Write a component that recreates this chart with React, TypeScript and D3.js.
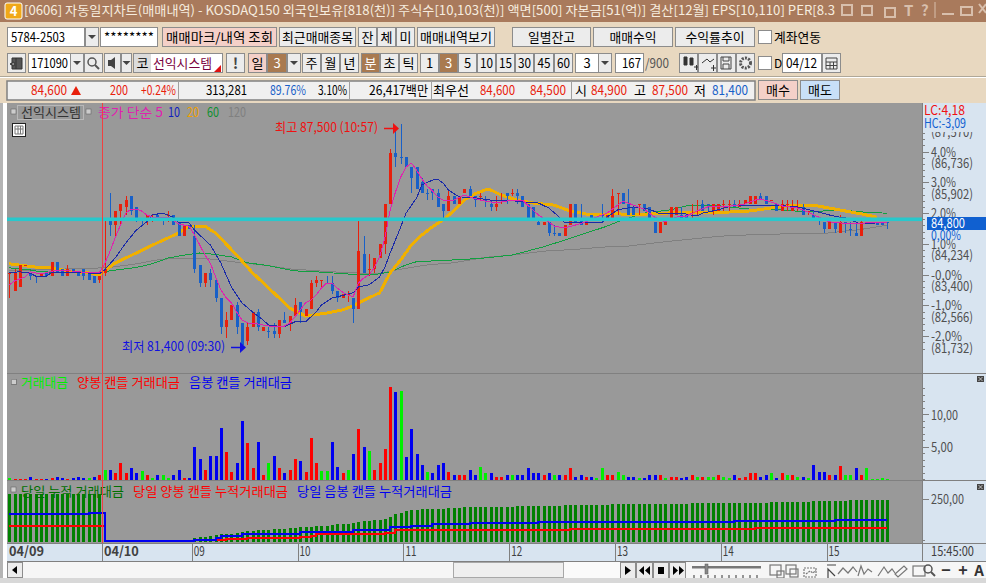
import * as d3 from "d3";

// 가격은 100원 단위 (834 = 83,400)
const opens = [
  834,829,830,836,834,833,833,834,833,837,
  835,833,835,834,835,834,833,832,834,849,
  847,851,852,855,852,849,849,849,850,849,
  850,850,848,844,847,844,836,831,834,832,
  827,819,821,825,820,815,819,823,818,818,
  818,817,821,820,822,826,822,824,831,832,
  831,831,829,827,828,827,824,839,835,835,
  838,842,853,867,866,866,863,863,859,856,
  857,856,853,851,855,853,856,857,855,855,
  854,853,852,854,856,856,856,855,853,852,
  848,847,848,845,845,844,847,853,849,847,
  850,849,850,849,849,856,856,853,852,853,
  853,852,848,845,847,849,850,850,850,849,
  850,853,853,851,851,853,853,853,852,853,
  853,853,855,855,854,853,851,853,851,852,
  852,851,850,849,848,846,848,845,848,846,
  845,844,848,848,848,848,848,
];
const closes = [
  834,834,836,836,833,833,834,833,837,834,
  833,835,834,833,833,832,831,833,835,847,
  851,853,854,851,849,849,850,849,849,849,
  850,847,844,847,846,835,831,834,832,827,
  819,821,825,819,814,819,823,819,819,818,
  817,821,820,822,825,823,824,831,832,832,
  831,829,827,828,828,824,840,834,835,838,
  842,853,867,866,866,863,860,857,856,856,
  856,852,851,855,853,855,857,855,854,855,
  854,852,853,854,855,856,855,852,849,849,
  847,848,845,845,844,847,853,848,847,848,
  849,849,850,850,855,856,853,850,850,853,
  851,849,845,848,848,852,852,849,849,849,
  850,851,853,853,853,853,853,852,853,854,
  855,855,854,853,854,851,853,853,852,852,
  850,851,849,849,846,848,846,848,848,846,
  844,848,848,848,847,847,848,
];
const highs = [
  834,835,836,836,834,833,834,834,837,837,
  835,836,835,834,835,834,833,833,849,856,
  851,853,855,855,852,849,850,850,850,849,
  851,850,848,847,847,847,836,834,835,832,
  827,823,825,826,820,820,823,824,819,819,
  820,821,823,822,827,826,824,832,833,832,
  833,833,829,828,829,827,849,844,839,838,
  842,853,868,874,875,866,863,863,860,857,
  857,857,853,857,855,855,857,858,855,856,
  855,854,855,856,856,857,857,855,853,852,
  849,848,848,847,845,847,853,853,853,848,
  850,849,853,850,857,856,856,857,852,853,
  853,852,848,848,848,852,852,852,850,853,
  854,854,853,853,853,854,854,854,854,854,
  855,855,856,855,854,853,854,854,854,854,
  853,851,851,849,848,848,848,850,848,848,
  848,849,848,848,848,848,848,
];
const lows = [
  827,829,830,836,832,831,833,833,833,834,
  833,833,834,833,832,832,831,831,833,844,
  844,847,850,850,848,847,847,848,849,847,
  848,847,844,844,846,834,830,830,830,826,
  817,816,821,817,814,814,819,818,818,816,
  816,816,820,818,822,820,822,824,830,830,
  831,828,826,827,826,820,824,834,833,834,
  838,839,853,863,864,863,856,857,856,854,
  854,852,849,851,853,853,856,855,852,854,
  852,851,851,853,853,855,853,852,849,849,
  847,847,844,844,844,844,847,848,847,847,
  849,849,849,849,849,850,853,850,850,850,
  851,849,845,845,847,849,850,849,849,849,
  850,851,851,850,851,851,851,852,852,853,
  853,853,854,853,854,851,851,851,851,851,
  850,850,849,847,845,846,845,845,845,844,
  844,844,848,848,847,847,846,
];
const candleKinds =
  "RRRRBBRBRB" + "BRBBBBBRRB" + "RRRBBBRRBB" + "RBBRBBBRBB" + "BRRBBRRBRB" +
  "BRBRRBRRRR" + "BBBRRBRBRR" + "RRRBBBBBBB" + "BBBRBRRBBR" + "BBRRBRBBBB" +
  "BRBBBRRBBR" + "BBBRRRBBBR" + "BBBRRRRBBR" + "RBBRRRRBRR" + "RRBBRBRRRR" +
  "BRBBBRBRBB" + "BRBBBBB";

// 이동평균 (읽은 지점만)
const ma5Idx = [0,1,3,4,6,9,12,15,17,18,19,20,21,22,23,24,25,26,27,30,31,32,34,35,36,37,38,39,40,41,42,43,44,45,47,48,50,52,53,54,55,56,57,58,59,60,61,62,63,64,65,66,67,68,69,70,71,72,73,74,75,76,77,78,79,80,81,82,84,86,87,89,92,95,97,98,99,100,102,103,105,107,109,111,113,115,116,118,120,122,124,126,128,130,132,137,139,141,142,144,146,149,151,153,155,157,160,162,166];
const ma5 = [830.6,831.7,832.8,834.2,833.6,834.7,834.4,833.9,833.9,836.4,839.7,843.5,847.1,850.4,851.5,851.5,851,849.9,849.3,849.3,848.5,847.4,846.8,844.4,841.6,838.8,836.6,832.8,829.2,827,825.6,823.1,820.9,820.1,819.8,819.5,819,819.2,820.1,821.7,823.7,825.6,826.4,827.8,829.7,831.1,831.1,829.7,828.6,827.8,827.3,831.1,832.5,833.3,835.3,838.3,843.5,851.3,856.2,860.4,863.1,864.2,862.3,859.8,857.9,856.5,854.9,854,854,855.4,854.9,854,853.2,854,854,852.6,851.3,849.9,848,846.8,846.3,847.1,848,849.3,850.4,852.6,853.7,852.6,851.5,849.3,848,849.3,849.6,851,852.1,852.4,852.9,854,854.3,853.5,852.4,851.8,850.7,849.3,848,847.7,847.4,847.7,847.7];

const ma10Idx = [0,2,4,5,7,8,14,17,18,20,22,24,26,27,29,31,32,34,35,38,40,42,44,46,48,49,52,54,56,58,59,61,62,65,66,68,70,71,72,74,75,77,78,80,81,82,83,85,88,91,94,97,100,102,104,105,107,112,113,115,118,121,123,125,127,130,131,134,137,141,145,149,153,155,157,158,161,164,166];
const ma10 = [834,834.2,833.8,833,833,834,834,833.6,834.7,838,842.1,845.7,848,849.9,850.4,849.3,847.7,847.7,845.7,841.6,836.6,830,825.6,823.1,820.9,819.5,819,820.4,820.4,823.1,825,827,827.3,828.4,830,830.6,832.8,835.5,839.4,846.6,850.4,854.6,858.2,859.5,859.8,858.7,856.8,854.9,854.6,854,854,853.5,853.2,851.8,849.3,847.7,847.7,847.7,849.3,851.3,852.1,851.5,850.2,850.2,850.4,849.6,850.4,851.3,852.6,852.6,852.6,852.1,850.7,849.9,849.3,849.1,847.4,847.7,847.7];

const ma20Idx = [0,5,8,12,15,17,18,20,24,28,32,34,37,39,43,46,50,53,56,60,63,65,68,70,72,74,76,78,80,82,84,86,88,90,91,93,96,99,103,106,110,115,119,122,124,128,132,136,140,144,147,150,152,155,158,161,164];
const ma20 = [836.4,835.5,835.3,834.2,833.9,833.3,834.4,836.6,839.4,842.2,844.9,846.8,846.8,844.9,838.8,833.9,828.4,824.2,822,822.8,823.7,824.8,827,828.4,833.9,837.5,841.6,844.4,846.6,848.5,851,854,855.7,856.8,856.8,855.4,854,853.2,852.6,851,849.9,850.2,849.9,850.4,850.4,850.7,850.7,850.7,851,851.8,852.4,852.6,852.6,851.8,851,850.2,849.3];

const ma60Idx = [0,4,6,14,17,19,24,27,30,33,36,39,42,45,49,53,56,58,62,65,70,72,75,77,83,89,95,101,107,113,115,120,125,128,133,140,144,151,157,163,166];
const ma60 = [835.3,834.7,834.2,833.9,833.8,834.5,835.4,836.4,838,838.8,839.4,839,838.3,836.7,835.9,834.7,834.2,834.2,833.8,833.5,833.6,834.2,836.1,837,837.4,837.9,838.8,841.1,843.9,846.8,848,850.4,851.3,852.4,852.6,851.5,851.5,850.7,851.3,850.5,850.4];

const ma120Idx = [0,4,16,19,24,28,32,36,39,42,49,53,58,61,70,73,79,84,90,95,101,107,113,117,124,132,136,144,154,161,166];
const ma120 = [834.7,834.7,835.2,835.4,836.4,837.5,838,838,837.6,837,835.9,835,834.5,834.2,833.6,834.7,836.1,836.7,838.2,838.8,839.9,840.4,841.1,841.3,842.5,843.7,844.2,844.6,844.8,845.9,847.1];

// 거래대금
const volumes = [
  .25,.1,.1,.1,.46,.05,.1,.1,.25,.46,
  .3,.15,.3,.46,.3,.3,.46,.77,1.54,1.54,
  .93,2.62,.93,1.7,1.08,1.34,.62,.3,.62,.77,
  .3,.77,1.39,.3,.3,4.94,3.24,1.39,3.6,3.55,
  8.02,4.17,1.23,2.62,9.1,5.56,1.7,5.86,.77,2.47,
  3.7,1.85,1.08,1.39,3.24,2.93,1.23,6.33,2.62,1.34,
  1.34,5.71,2,1.08,1.54,4.01,7.72,4.94,4.42,1.54,
  2.47,4.78,14.35,13.58,13.68,3.4,7.72,3.86,2.31,1.23,
  1.08,2.31,2.62,1.23,.62,.62,.77,1.39,.77,1.9,
  .93,1.08,.46,.46,.62,.62,.77,.77,1.7,.93,
  .93,.62,1.08,.62,.62,.77,1.7,.46,.62,.46,
  .46,.3,1.7,.62,.62,1.23,.77,.46,.46,.3,
  .3,.62,.77,.62,.3,.46,.46,.3,.46,.77,
  .46,.46,.46,.46,.77,.46,.3,.62,.3,.46,
  .93,1.08,.46,.62,.93,.3,1.08,.62,.62,.46,
  .46,.3,2.31,1.23,1.23,.62,.77,2.16,.62,.77,
  1.7,.62,1.7,.1,.1,.2,.1,
];
const volumeKinds =
  "GRRRBRRBRB" + "BRBBBGBRGB" + "RRRBBGRGBG" + "GBBRBBBRBB" + "BRRBBRRBRG" +
  "BRBRRBRRRG" + "GBBRGBRBGR" + "RRRBGBBBBG" + "BBBRBRRBBG" + "GBRRBGBBBB" +
  "BRBGBRRBBR" + "BGGRRGGBBG" + "BBBRGRRBBR" + "GRGGRGGBRR" + "RRBBGBRGRG" +
  "BGBBBRBRGG" + "BRGGGGG";

// 당일 누적 거래대금
const cumTotal = [
  281,281,281,281,281,281,281,281,281,281,281,281,281,281,281,281,281,281,
  5,5,5,5,5,5,5,5,5,5,5,5,5,5,5,5,5,
  27,29,33,39,43,
  47,48,50,52,60,64,68,72,72,74,
  76,78,79,83,85,87,91,91,95,97,
  97,101,107,107,109,112,118,122,126,128,
  130,134,149,163,172,182,188,190,192,192,
  194,194,196,200,200,200,203,203,203,206,
  206,206,206,206,206,206,211,211,211,211,
  211,211,211,211,211,217,217,217,217,217,
  217,217,217,217,223,223,223,223,223,223,
  223,223,223,223,223,223,223,223,223,229,
  229,229,229,229,229,229,229,229,229,229,
  229,229,229,229,234,234,234,234,234,234,
  234,234,240,240,240,240,240,240,240,246,
  246,246,246,246,246,246,246,
];
const cumUpIdx = [0,18,35,41,45,55,57,58,71,73,106,141,166];
const cumUp = [97,10,14,19,25,29,39,47,52,72,78,83,83];
const cumDownIdx = [0,15,18,35,39,40,44,55,65,72,76,80,87,100,137,156,166];
const cumDown = [165,172,8,14,23,37,48,62,72,91,97,107,114,120,126,132,132];

const pctTicks = [4, 3, 2, 1, -0, -1, -2];
const pctLabels = ["4,0%", "3,0%", "2,0%", "1,0%", "-0,0%", "-1,0%", "-2,0%"];
const priceLabels = ["(86,736)", "(85,902)", "", "(84,234)", "(83,400)", "(82,566)", "(81,732)"];
const volumeTicks = [10, 5];
const volumeLabels = ["10,00", "5,00"];
const timeTickIdx = [17.6, 34.6, 54.6, 74.6, 94.6, 114.6, 134.6, 154.6];
const timeLabels = ["04/10", "09", "10", "11", "12", "13", "14", "15"];
const baselinePrice = 848.7;

const W = 986;
const H = 583;
const FONT = "'Noto Sans CJK KR', 'Noto Sans', sans-serif";
const RED = "#e8200c";
const BLUE = "#1860c8";
const AXIS_BG = "#d8e4f0";
const BTN_BORDER = "#8c8c8c";

const x = d3.scaleLinear().domain([0, 166]).range([9.3, 887.4]);
const yPrice = d3.scaleLinear().domain([814, 875]).range([345, 124]);
const yPct = d3.scaleLinear().domain([-2, 4]).range([336.7, 152]);
const yVol = d3.scaleLinear().domain([0, 15]).range([479.5, 382.3]);
const yCum = d3.scaleLinear().domain([0, 250]).range([542.3, 499.3]);

const maPath = (idx: number[], vals: number[]) =>
  d3.line<number>().x((i) => x(i)).y((_, k) => yPrice(vals[k]))(idx) || "";
const stepPath = (idx: number[], vals: number[]) =>
  d3.line<number>().curve(d3.curveStepAfter).x((i) => x(i)).y((_, k) => yCum(vals[k]))(idx) || "";

function T({ x: tx, y, children, size = 13, fill = "#000", anchor = "start", weight = 400, len }: any) {
  return (
    <text x={tx} y={y} fontSize={size} fill={fill} textAnchor={anchor} fontWeight={weight} fontFamily={FONT}
      textLength={len} lengthAdjust={len ? "spacingAndGlyphs" : undefined}>
      {children}
    </text>
  );
}

function Btn({ x: bx, y, w, h = 20, label = "", bg = "#ececec", fill = "#000", len }: any) {
  return (
    <g>
      <rect x={bx + 0.5} y={y + 0.5} width={w - 1} height={h - 1} fill={bg} stroke={BTN_BORDER} />
      {label && (
        <T x={bx + w / 2} y={y + h / 2 + 5} anchor="middle" fill={fill} len={len}>
          {label}
        </T>
      )}
    </g>
  );
}

function Box({ x: bx, y, w, h = 20, label = "", anchor = "start", len }: any) {
  return (
    <g>
      <rect x={bx + 0.5} y={y + 0.5} width={w - 1} height={h - 1} fill="#fff" stroke={BTN_BORDER} />
      {label && (
        <T x={anchor === "start" ? bx + 4 : bx + w - 3} y={y + h / 2 + 5} anchor={anchor} len={len}>
          {label}
        </T>
      )}
    </g>
  );
}

function Drop({ x: bx, y, w = 14, h = 20 }: any) {
  const cx = bx + w / 2;
  const cy = y + h / 2;
  return (
    <g>
      <rect x={bx + 0.5} y={y + 0.5} width={w - 1} height={h - 1} fill="#ececec" stroke={BTN_BORDER} />
      <path d={`M${cx - 4},${cy - 2}h8l-4,4z`} fill="#444" />
    </g>
  );
}

function Toolbar() {
  const rowA = 27;
  const rowB = 53;
  return (
    <g>
      <rect x={0} y={0} width={W} height={22} fill="#a97a5c" />
      <rect x={0} y={22} width={W} height={81} fill="#e8d8c0" />
      <rect x={5} y={3} width={17} height={16} rx={2} fill="#f0a818" stroke="#fff" />
      <T x={13.5} y={16} anchor="middle" fill="#fff" weight={700}>4</T>
      <T x={24} y={15} fill="#f6ecdf" len={811}>
        [0606] 자동일지차트(매매내역) - KOSDAQ150 외국인보유[818(천)] 주식수[10,103(천)] 액면[500] 자본금[51(억)] 결산[12월] EPS[10,110] PER[8.3
      </T>
      {/* 창 버튼 */}
      <g fill="none" stroke="#d8bfac" strokeWidth={2}>
        <rect x={842} y={5} width={10} height={10} />
        <rect x={862} y={6} width={10} height={9} />
        <path d="M885,8h10v9h-10z" />
        <path d="M935,2v16" strokeWidth={1} />
        <path d="M942,14h12" />
        <rect x={961} y={7} width={11} height={8} />
        <path d="M979,4l7,9m0,-9l-7,9" />
      </g>
      <T x={904} y={16} fill="#d8bfac" size={15} weight={700}>T</T>
      <T x={921} y={16} fill="#d8bfac" size={15} weight={700}>?</T>

      {/* 1행 */}
      <Box x={7} y={rowA} w={78} label="5784-2503" len={54} />
      <Drop x={85} y={rowA} />
      <Box x={100} y={rowA} w={58} label="********" len={50} />
      <Btn x={162} y={rowA} w={115} label="매매마크/내역 조회" bg="#f4d0c8" len={107} />
      <Btn x={279} y={rowA} w={77} label="최근매매종목" len={71} />
      <Btn x={358} y={rowA} w={19} label="잔" />
      <Btn x={377} y={rowA} w={19} label="체" />
      <Btn x={396} y={rowA} w={19} label="미" />
      <Btn x={417} y={rowA} w={78} label="매매내역보기" len={72} />
      <Btn x={512} y={rowA} w={79} label="일별잔고" len={47} />
      <Btn x={593} y={rowA} w={80} label="매매수익" len={47} />
      <Btn x={675} y={rowA} w={80} label="수익률추이" len={59} />
      <rect x={758.5} y={rowA + 3.5} width={13} height={13} fill="#fff" stroke={BTN_BORDER} />
      <T x={774} y={rowA + 15} len={47}>계좌연동</T>

      {/* 2행 */}
      <Btn x={7} y={rowB} w={19} />
      <path d={`M12,${rowB + 5}h10v11h-10zM16,${rowB + 5}v11M14,${rowB + 9}l-4,2l4,2z`} fill="#555" stroke="#333" />
      <Box x={28} y={rowB} w={43} />
      <T x={31} y={rowB + 15} len={37}>171090</T>
      <Drop x={70} y={rowB} />
      <Btn x={84} y={rowB} w={19} />
      <circle cx={92} cy={rowB + 9} r={4} fill="none" stroke="#555" strokeWidth={1.5} />
      <path d={`M95,${rowB + 12}l4,4`} stroke="#555" strokeWidth={2} />
      <Btn x={104} y={rowB} w={17} />
      <path d={`M108,${rowB + 7}h3l4,-3v12l-4,-3h-3z`} fill="#444" />
      <Drop x={121} y={rowB} w={11} />
      <rect x={133.5} y={rowB + 0.5} width={89} height={19} fill="#fff" stroke={BTN_BORDER} />
      <rect x={134} y={rowB + 1} width={17} height={18} fill="#dcdcdc" />
      <T x={142.5} y={rowB + 15} anchor="middle">코</T>
      <T x={153} y={rowB + 15} fill="#7a0040" len={59}>선익시스템</T>
      <path d={`M221,${rowB + 12}v7h-7z`} fill="#e01010" />
      <Btn x={226} y={rowB} w={19} />
      <T x={235.5} y={rowB + 16} anchor="middle" fill="#444" weight={700} size={15}>!</T>
      <Btn x={248} y={rowB} w={19} label="일" bg="#f4d0c8" />
      <Btn x={267} y={rowB} w={20} label="3" bg="#a97a50" fill="#fff" />
      <Drop x={287} y={rowB} />
      <Btn x={302} y={rowB} w={19} label="주" />
      <Btn x={321} y={rowB} w={19} label="월" />
      <Btn x={340} y={rowB} w={19} label="년" />
      <Btn x={361} y={rowB} w={19} label="분" bg="#a97a50" fill="#fff" />
      <Btn x={380} y={rowB} w={19} label="초" />
      <Btn x={399} y={rowB} w={19} label="틱" />
      <Btn x={420} y={rowB} w={19} label="1" />
      <Btn x={439} y={rowB} w={19} label="3" bg="#a97a50" fill="#fff" />
      <Btn x={458} y={rowB} w={19} label="5" />
      <Btn x={477} y={rowB} w={19} label="10" len={13} />
      <Btn x={496} y={rowB} w={19} label="15" len={13} />
      <Btn x={515} y={rowB} w={19} label="30" len={13} />
      <Btn x={534} y={rowB} w={20} label="45" len={13} />
      <Btn x={554} y={rowB} w={19} label="60" len={13} />
      <Box x={575} y={rowB} w={24} />
      <T x={587} y={rowB + 15} anchor="middle">3</T>
      <Drop x={598} y={rowB} />
      <Box x={615} y={rowB} w={29} label="167" anchor="end" len={19} />
      <T x={645} y={rowB + 15} fill="#555" len={24}>/900</T>
      <Btn x={679} y={rowB} w={19} />
      <path d={`M684,${rowB + 4}h3v8h-3zM690,${rowB + 5}h3v7h-3zM694,${rowB + 14}h5M696.5,${rowB + 12}v5`} fill="#333" stroke="#333" />
      <Btn x={698} y={rowB} w={19} />
      <path d={`M702,${rowB + 10}l5,-4l3,3l4,-3M711,${rowB + 15}h5M713.5,${rowB + 12}v6`} fill="none" stroke="#333" />
      <Btn x={717} y={rowB} w={19} />
      <path d={`M721,${rowB + 4}h10v12h-10zM723,${rowB + 4}v4h6v-4M723,${rowB + 16}v-5h6v5`} fill="none" stroke="#444" />
      <Btn x={736} y={rowB} w={19} />
      <circle cx={745.5} cy={rowB + 10} r={5} fill="none" stroke="#555" strokeWidth={3} strokeDasharray="2 1.2" />
      <rect x={758.5} y={rowB + 3.5} width={13} height={13} fill="#fff" stroke={BTN_BORDER} />
      <T x={774} y={rowB + 15} size={12}>D</T>
      <Box x={782} y={rowB} w={40} />
      <T x={786} y={rowB + 15} len={31}>04/12</T>
      <Btn x={822} y={rowB} w={19} />
      <path d={`M826,${rowB + 5}h11v11h-11zM826,${rowB + 9}h11M830,${rowB + 9}v7M833.5,${rowB + 9}v7M826,${rowB + 12.5}h11`} fill="none" stroke="#444" />

      <line x1={0} x2={W} y1={76.5} y2={76.5} stroke="#b0a898" />
      <line x1={0} x2={W} y1={77.5} y2={77.5} stroke="#fff" />

      {/* 3행 */}
      <rect x={7} y={81} width={748} height={19} fill="#f0f0f0" stroke="#808080" strokeWidth={1.5} />
      {[178, 349, 431, 571].map((d) => (
        <line key={d} x1={d + 0.5} x2={d + 0.5} y1={81} y2={100} stroke="#a0a0a0" />
      ))}
      <T x={31} y={95} fill={RED} len={36}>84,600</T>
      <path d="M71,95l5,-9l5,9z" fill={RED} />
      <T x={110} y={95} fill={RED} len={18}>200</T>
      <T x={141} y={95} fill={RED} len={35}>+0.24%</T>
      <T x={206} y={95} len={41}>313,281</T>
      <T x={270} y={95} fill={BLUE} len={36}>89.76%</T>
      <T x={318} y={95} len={29}>3.10%</T>
      <T x={369} y={95} len={59}>26,417백만</T>
      <T x={433} y={95} len={36}>최우선</T>
      <T x={480} y={95} fill={RED} len={35}>84,600</T>
      <T x={530} y={95} fill={RED} len={36}>84,500</T>
      <T x={575} y={95}>시</T>
      <T x={591} y={95} fill={RED} len={36}>84,900</T>
      <T x={634} y={95}>고</T>
      <T x={652} y={95} fill={RED} len={36}>87,500</T>
      <T x={694} y={95}>저</T>
      <T x={712} y={95} fill={BLUE} len={36}>81,400</T>
      <Btn x={758} y={80} w={40} h={20} label="매수" bg="#f4d0c8" />
      <Btn x={800} y={80} w={40} h={20} label="매도" bg="#c8e0f8" />
    </g>
  );
}

function Candles() {
  return (
    <g shapeRendering="crispEdges">
      {opens.map((o, i) => {
        const c = closes[i];
        const color = candleKinds[i] === "R" ? RED : BLUE;
        const cx = Math.round(x(i));
        const top = yPrice(Math.max(o, c));
        const bottom = yPrice(Math.min(o, c));
        return (
          <g key={i}>
            <rect x={cx} y={yPrice(highs[i])} width={1} height={Math.max(1, yPrice(lows[i]) - yPrice(highs[i]))} fill={color} />
            <rect x={cx - 1} y={top} width={3} height={Math.max(1, bottom - top)} fill={color} />
          </g>
        );
      })}
    </g>
  );
}

function MainPanel() {
  return (
    <g>
      <g fill="none" shapeRendering="crispEdges">
        <path d={maPath(ma120Idx, ma120)} stroke="#808080" strokeWidth={1} />
        <path d={maPath(ma60Idx, ma60)} stroke="#10a040" strokeWidth={1} />
        <path d={maPath(ma20Idx, ma20)} stroke="#f0b000" strokeWidth={3} />
      </g>
      <Candles />
      <g fill="none" shapeRendering="crispEdges">
        <path d={maPath(ma10Idx, ma10)} stroke="#1a2aa8" strokeWidth={1} />
        <path d={maPath(ma5Idx, ma5)} stroke="#e020b0" strokeWidth={1} />
      </g>
      <rect x={7} y={yPrice(baselinePrice) - 1.8} width={915} height={3.6} fill="#28c8cc" />

      <rect x={11} y={109} width={5} height={5} fill="#ccc" stroke="#666" strokeWidth={0.6} />
      <rect x={17.5} y={105.5} width={66} height={14} fill="none" stroke="#b8b8b8" />
      <T x={21} y={117} fill="#333" len={60}>선익시스템</T>
      <rect x={86} y={109} width={5} height={5} fill="#ccc" stroke="#666" strokeWidth={0.6} />
      <T x={98} y={117} fill="#e020b0" len={65}>종가 단순 5</T>
      <T x={168} y={117} fill="#1020c0" len={12}>10</T>
      <T x={187} y={117} fill="#f0a000" len={12}>20</T>
      <T x={207} y={117} fill="#109030" len={12}>60</T>
      <T x={228} y={117} fill="#808080" len={18}>120</T>

      <rect x={12.5} y={123.5} width={13} height={13} fill="#fff" stroke="#222" />
      <path d="M15,126h8v8h-8zM15,129h8M18,126v8M20.5,126v8" fill="none" stroke="#777" />

      <T x={275} y={132} fill="#f01010" len={103}>최고 87,500 (10:57)</T>
      <path d="M384,128.5h9" stroke="#f01010" strokeWidth={1.5} />
      <path d="M393,123l6,5.5l-6,5.5z" fill="#f01010" />
      <T x={122} y={351} fill="#1010e0" len={103}>최저 81,400 (09:30)</T>
      <path d="M231,347.5h9" stroke="#1010e0" strokeWidth={1.5} />
      <path d="M240,342l6,5.5l-6,5.5z" fill="#1010e0" />
    </g>
  );
}

function VolumePanel() {
  const colors: Record<string, string> = { G: "#00f000", R: "#ff0000", B: "#0000f0" };
  return (
    <g shapeRendering="crispEdges">
      {volumes.map((v, i) => (
        <rect key={i} x={Math.round(x(i)) - 1} y={yVol(v)} width={3} height={yVol(0) - yVol(v)} fill={colors[volumeKinds[i]]} />
      ))}
      <rect x={11} y={379} width={5} height={5} fill="#ccc" stroke="#666" strokeWidth={0.6} />
      <T x={21} y={387} fill="#00f000" len={47}>거래대금</T>
      <T x={77} y={387} fill="#ff0000" len={103}>양봉 캔들 거래대금</T>
      <T x={189} y={387} fill="#0000f0" len={103}>음봉 캔들 거래대금</T>
    </g>
  );
}

function CumPanel() {
  return (
    <g>
      <g shapeRendering="crispEdges">
        {cumTotal.map((v, i) => (
          <rect key={i} x={Math.round(x(i)) - 1} y={yCum(v)} width={3} height={yCum(0) - yCum(v)} fill="#008000" />
        ))}
      </g>
      <path d={stepPath(cumUpIdx, cumUp)} fill="none" stroke="#ff0000" strokeWidth={2} shapeRendering="crispEdges" />
      <path d={stepPath(cumDownIdx, cumDown)} fill="none" stroke="#0000f0" strokeWidth={2} shapeRendering="crispEdges" />
      <rect x={11} y={487} width={5} height={5} fill="#ccc" stroke="#666" strokeWidth={0.6} />
      <T x={21} y={496} fill="#007000" len={103}>당일 누적 거래대금</T>
      <T x={133} y={496} fill="#ff0000" len={155}>당일 양봉 캔들 누적거래대금</T>
      <T x={297} y={496} fill="#0000f0" len={155}>당일 음봉 캔들 누적거래대금</T>
    </g>
  );
}

function RightAxis() {
  const minorMain = d3.range(-2.4, 4.8, 0.2);
  const minorVol = d3.range(0, 15, 1);
  return (
    <g>
      <rect x={922} y={103} width={64} height={458} fill={AXIS_BG} />
      <line x1={922.5} x2={922.5} y1={103} y2={561} stroke="#808080" />
      <line x1={922} x2={986} y1={373.5} y2={373.5} stroke="#808080" />
      <line x1={922} x2={986} y1={480.5} y2={480.5} stroke="#808080" />
      <g stroke="#808080" shapeRendering="crispEdges">
        {minorMain.map((p) => (
          <line key={p} x1={922} x2={925} y1={yPct(p)} y2={yPct(p)} />
        ))}
        {pctTicks.map((p) => (
          <line key={p} x1={922} x2={929} y1={yPct(p)} y2={yPct(p)} />
        ))}
        {minorVol.map((p) => (
          <line key={p} x1={922} x2={925} y1={yVol(p)} y2={yVol(p)} />
        ))}
        {volumeTicks.map((p) => (
          <line key={p} x1={922} x2={929} y1={yVol(p)} y2={yVol(p)} />
        ))}
        <line x1={922} x2={929} y1={yCum(250)} y2={yCum(250)} />
        <line x1={922} x2={925} y1={yCum(10)} y2={yCum(10)} />
      </g>
      <T x={931} y={137} fill="#505050" len={42}>(87,570)</T>
      <rect x={923} y={104} width={63} height={28} fill={AXIS_BG} />
      <T x={924} y={115} fill="#f01010" len={41}>LC:4,18</T>
      <T x={924} y={128} fill="#1060d0" len={42}>HC:-3,09</T>
      {pctTicks.map((p, k) => (
        <g key={k}>
          <T x={931} y={yPct(p) + 4.5} fill="#505050" len={pctLabels[k].length > 4 ? 31 : 25}>{pctLabels[k]}</T>
          {priceLabels[k] && (
            <T x={931} y={yPct(p) + 16} fill="#505050" len={42}>{priceLabels[k]}</T>
          )}
        </g>
      ))}
      <T x={931} y={240} fill="#1060d0" len={30}>0,00%</T>
      <rect x={927} y={217} width={59} height={13} fill="#1060d0" />
      <T x={931} y={228} fill="#fff" len={34}>84,800</T>
      {volumeTicks.map((v, k) => (
        <T key={v} x={931} y={yVol(v) + 5} fill="#505050" len={v === 10 ? 27 : 22}>{volumeLabels[k]}</T>
      ))}
      <T x={931} y={yCum(250) + 5} fill="#505050" len={33}>250,00</T>
      {[376, 484].map((cy) => (
        <g key={cy}>
          <rect x={977} y={cy} width={7} height={6} fill="#444" />
          <path d={`M978.5,${cy + 1}l4,4m0,-4l-4,4`} stroke="#ddd" strokeWidth={0.8} />
        </g>
      ))}
    </g>
  );
}

function TimeAxis() {
  return (
    <g>
      <rect x={7} y={543} width={915} height={18} fill={AXIS_BG} />
      <line x1={7} x2={986} y1={543.5} y2={543.5} stroke="#808080" />
      <line x1={7} x2={986} y1={561.5} y2={561.5} stroke="#808080" />
      <T x={9} y={556} fill="#404040" weight={700} len={35}>04/09</T>
      {timeTickIdx.map((t, k) => (
        <g key={t}>
          <line x1={x(t)} x2={x(t)} y1={543} y2={561} stroke="#808080" shapeRendering="crispEdges" />
          <T x={x(t) + 1.5} y={556} fill="#404040" weight={k === 0 ? 700 : 400} len={k === 0 ? 35 : 11}>{timeLabels[k]}</T>
        </g>
      ))}
      <T x={931} y={556} fill="#404040" len={43}>15:45:00</T>
    </g>
  );
}

function ScrollBar() {
  return (
    <g>
      <rect x={7} y={562} width={979} height={16} fill="#f6f6f6" />
      <Btn x={7} y={562} w={16} h={16} />
      <path d="M17,566v8l-5,-4z" fill="#000" />
      <rect x={453.5} y={562.5} width={110} height={15} fill="#efefef" stroke="#a8a8a8" />
      <rect x={564} y={562} width={56} height={16} fill="#fafafa" />
      <Btn x={620} y={562} w={16} h={17} />
      <path d="M625,566v9l6,-4.5z" fill="#000" />
      <Btn x={636} y={562} w={17} h={17} />
      <path d="M644,566v9l-5,-4.5zM650,566v9l-5,-4.5z" fill="#000" />
      <Btn x={653} y={562} w={16} h={17} />
      <rect x={658} y={567} width={6} height={7} fill="#000" />
      <Btn x={669} y={562} w={17} h={17} />
      <path d="M673,566v9l5,-4.5zM679,566v9l5,-4.5z" fill="#000" />
      <rect x={692} y={566} width={69} height={2.5} fill="#777" />
      <rect x={705} y={564} width={3} height={10} fill="#888" stroke="#555" strokeWidth={0.5} />
      {[694, 701, 708, 715, 722, 729, 736, 743, 750, 757].map((t) => (
        <line key={t} x1={t} x2={t} y1={575} y2={578} stroke="#333" />
      ))}
      <g fill="none" stroke="#777" strokeWidth={1.2}>
        <rect x={770} y={565} width={11} height={10} />
        <rect x={777} y={571} width={7} height={7} />
        <rect x={786} y={565} width={10} height={9} />
        <rect x={790} y={569} width={8} height={8} />
        <path d="M804,568h12v9h-12zM806,574l4,-3l3,2l3,-3" strokeDasharray="2 1" />
        <path d="M827,565h9M828,578v-9l7,7" stroke="#444" />
        <path d="M838,574l5,-6l5,5l5,-6l4,5" />
        <path d="M858,576l3,-10l3,8l4,-5l4,3" />
        <path d="M878,576l6,-9l4,6l4,-4l3,4" />
        <path d="M895,574l9,-8l3,3l-9,8z" />
        <rect x={913} y={566} width={12} height={10} />
      </g>
      <circle cx={928} cy={570} r={4} fill="none" stroke="#555" strokeWidth={1.5} transform="translate(0,-1)" />
      <path d="M931,572l4,4" stroke="#555" strokeWidth={2} />
      <T x={946} y={576} anchor="middle" fill="#333" weight={700} size={16}>−</T>
      <T x={963} y={576} anchor="middle" fill="#333" weight={700} size={16}>+</T>
      <T x={979} y={576} anchor="middle" fill="#333" weight={700} size={15}>A</T>
      <rect x={0} y={578} width={W} height={5} fill="#d8d8d8" />
    </g>
  );
}

export default function App() {
  return (
    <svg width={W} height={H} viewBox={`0 0 ${W} ${H}`} style={{ position: "fixed", left: 0, top: 0, background: "#fff" }}>
      <Toolbar />
      <rect x={0} y={103} width={3} height={480} fill="#b4b4b4" />
      <rect x={3} y={103} width={4} height={475} fill="#fff" />
      <rect x={7} y={103} width={915} height={440} fill="#999999" />
      <line x1={7} x2={922} y1={373.5} y2={373.5} stroke="#808080" />
      <line x1={7} x2={922} y1={480.5} y2={480.5} stroke="#808080" />
      <MainPanel />
      <VolumePanel />
      <CumPanel />
      <line x1={x(17.6)} x2={x(17.6)} y1={103} y2={543} stroke="#f04040" shapeRendering="crispEdges" />
      <RightAxis />
      <TimeAxis />
      <ScrollBar />
    </svg>
  );
}
